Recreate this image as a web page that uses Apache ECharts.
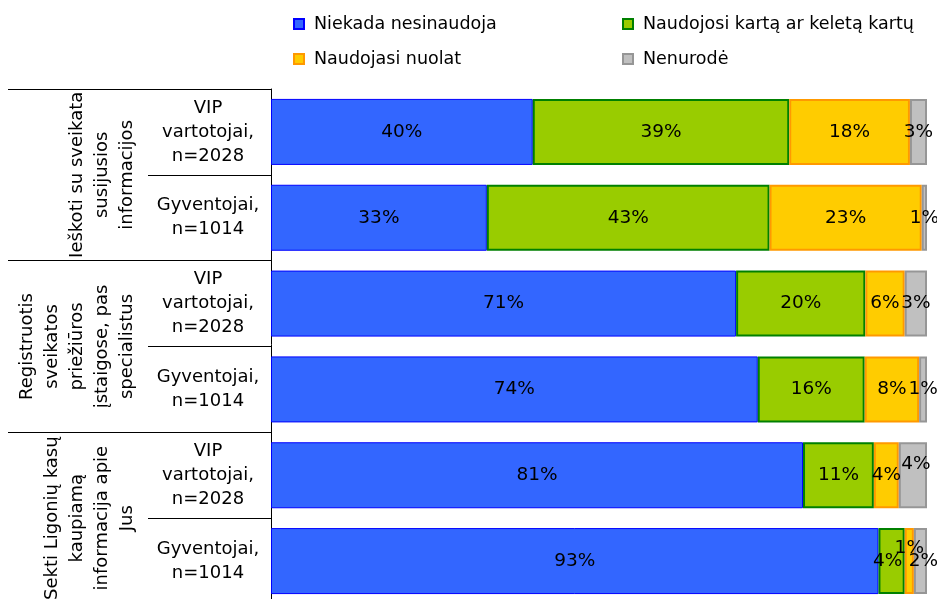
<!DOCTYPE html>
<html>
<head>
<meta charset="utf-8">
<script src="https://cdn.jsdelivr.net/npm/echarts@6/dist/echarts.min.js"></script>
<style>
html,body{margin:0;padding:0;background:#fff;overflow:hidden;}
#chart{width:937px;height:599px;}
</style>
</head>
<body>
<div id="chart"></div>
<script>
// Sub-categories (respondent groups), top to bottom
const categories = [
  'VIP\nvartotojai,\nn=2028', 'Gyventojai,\nn=1014',
  'VIP\nvartotojai,\nn=2028', 'Gyventojai,\nn=1014',
  'VIP\nvartotojai,\nn=2028', 'Gyventojai,\nn=1014'
];
// Group labels (activities)
const groups = [
  'Ieškoti su sveikata\nsusijusios\ninformacijos',
  'Registruotis\nsveikatos\npriežiūros\nįstaigose, pas\nspecialistus',
  'Sekti Ligonių kasų\nkaupiamą\ninformacija apie\nJus'
];
const seriesNames = ['Niekada nesinaudoja', 'Naudojosi kartą ar keletą kartų', 'Naudojasi nuolat', 'Nenurodė'];
// Values in percent
const neverUsed  = [39.9, 32.9, 70.9, 74.2, 81.1, 92.6];
const onceOrFew  = [39.1, 43.1, 19.7, 16.3, 10.8, 4.0];
const constantly = [18.4, 23.2, 6.0, 8.3, 3.8, 1.4];
const notStated  = [2.6, 0.8, 3.4, 1.2, 4.3, 2.0];

const values = [neverUsed, onceOrFew, constantly, notStated];
const fills   = ['#3366FF', '#99CC00', '#FFCC00', '#C0C0C0'];
const borders = ['#0000FF', '#008000', '#FF9900', '#969696'];
const borderW = [1, 2, 2, 2];
// label nudges for crowded small segments: [series][category] -> offset
const nudges = { '3-4': [3, -11], '2-5': [0, -13], '1-5': [-4, 0], '3-5': [3, 0] };

const FONT = 'DejaVu Sans';
const chart = echarts.init(document.getElementById('chart'), null, { renderer: 'canvas' });

const series = values.map((arr, si) => ({
  name: seriesNames[si],
  type: 'bar',
  stack: 'total',
  barWidth: 66,
  itemStyle: { color: fills[si], borderColor: borders[si], borderWidth: borderW[si] },
  label: {
    show: true, position: 'inside', color: '#000', fontFamily: FONT, fontSize: 18.5,
    formatter: p => Math.round(p.value) + '%'
  },
  emphasis: { disabled: true },
  data: arr.map((v, ci) => {
    const key = si + '-' + ci;
    return nudges[key] ? { value: v, label: { offset: nudges[key] } } : v;
  })
}));

const legendText = { color: '#000', fontFamily: FONT, fontSize: 17.5, lineHeight: 20, padding: [0, 0, 0, 5] };

chart.setOption({
  animation: false,
  backgroundColor: '#fff',
  legend: [
    { data: [seriesNames[0], seriesNames[2]], orient: 'vertical', left: 288, top: 9, icon: 'rect',
      itemWidth: 10, itemHeight: 10, itemGap: 15, textStyle: legendText, selectedMode: false },
    { data: [seriesNames[1], seriesNames[3]], orient: 'vertical', left: 617, top: 9, icon: 'rect',
      itemWidth: 10, itemHeight: 10, itemGap: 15, textStyle: legendText, selectedMode: false }
  ],
  grid: { left: 271, width: 656, top: 89, height: 515, containLabel: false, outerBoundsMode: 'none' },
  xAxis: { type: 'value', min: 0, max: 100, show: false },
  yAxis: [
    {
      type: 'category', inverse: true, data: categories, position: 'left',
      axisLine: { show: true, lineStyle: { color: '#000', width: 1 } },
      axisTick: { show: true, length: 123, interval: 0, lineStyle: { color: '#000', width: 1 } },
      axisLabel: { interval: 0, align: 'center', margin: 63, color: '#000', fontFamily: FONT, fontSize: 18, lineHeight: 24 },
      splitLine: { show: false }
    },
    {
      type: 'category', inverse: true, data: groups, position: 'left', offset: 0,
      axisLine: { show: false },
      axisTick: { show: true, length: 263, interval: 0, lineStyle: { color: '#000', width: 1 } },
      axisLabel: { interval: 0, rotate: 90, margin: 131, color: '#000', fontFamily: FONT, fontSize: 18, lineHeight: 25 },
      splitLine: { show: false }
    }
  ],
  series: series
});
</script>
</body>
</html>
